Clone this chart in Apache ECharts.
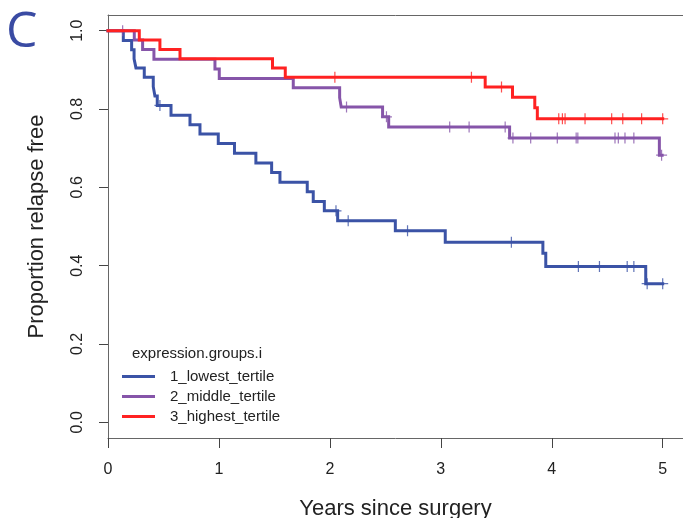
<!DOCTYPE html>
<html>
<head>
<meta charset="utf-8">
<script src="https://cdn.jsdelivr.net/npm/echarts@6/dist/echarts.min.js"></script>
<style>html,body{margin:0;padding:0;background:#fff}#c{width:683px;height:518px}</style>
</head>
<body>
<div id="c"></div>
<script>
// ---- data ----
var groupNames = ['1_lowest_tertile', '2_middle_tertile', '3_highest_tertile'];
var xTicks = [0, 1, 2, 3, 4, 5];
var yTicks = [0, 0.2, 0.4, 0.6, 0.8, 1.0];

var lowTimes = [0, 0.138, 0.213, 0.235, 0.252, 0.327, 0.408, 0.423, 0.444, 0.568, 0.739, 0.829, 0.994, 1.140, 1.333, 1.475, 1.550, 1.796, 1.850, 1.950, 2.070, 2.590, 3.040, 3.920, 3.946, 4.847, 5.0];
var lowSurv  = [1, 0.975, 0.951, 0.928, 0.905, 0.881, 0.857, 0.833, 0.809, 0.784, 0.760, 0.736, 0.712, 0.687, 0.662, 0.638, 0.613, 0.589, 0.564, 0.540, 0.515, 0.489, 0.460, 0.432, 0.398, 0.354, 0.354];
var lowCensTimes = [0.468, 2.055, 2.165, 2.70, 3.636, 4.24, 4.43, 4.68, 4.74, 4.86, 5.0];
var lowCensSurv  = [0.809, 0.540, 0.515, 0.489, 0.460, 0.398, 0.398, 0.398, 0.398, 0.354, 0.354];

var midTimes = [0, 0.237, 0.312, 0.414, 0.964, 1.003, 1.670, 2.088, 2.102, 2.475, 2.530, 3.620, 4.970, 4.995];
var midSurv  = [1, 0.976, 0.952, 0.927, 0.902, 0.878, 0.854, 0.829, 0.805, 0.780, 0.754, 0.726, 0.682, 0.682];
var midCensTimes = [0.132, 2.15, 2.51, 3.08, 3.255, 3.58, 3.65, 3.81, 4.05, 4.22, 4.235, 4.57, 4.60, 4.66, 4.74, 4.99];
var midCensSurv  = [1.0, 0.805, 0.780, 0.754, 0.754, 0.754, 0.726, 0.726, 0.726, 0.726, 0.726, 0.726, 0.726, 0.726, 0.726, 0.682];

var highTimes = [0, 0.282, 0.468, 0.649, 1.483, 1.598, 3.400, 3.646, 3.847, 3.870, 5.0];
var highSurv  = [1, 0.976, 0.952, 0.928, 0.905, 0.881, 0.856, 0.830, 0.803, 0.775, 0.775];
var highCensTimes = [2.045, 3.276, 3.547, 4.063, 4.096, 4.12, 4.30, 4.54, 4.64, 4.81, 5.0];
var highCensSurv  = [0.881, 0.881, 0.856, 0.775, 0.775, 0.775, 0.775, 0.775, 0.775, 0.775, 0.775];

// ---- styling ----
var colors = ['#3b53a6', '#8655a9', '#ff2222'];
var crossPath = 'path://M4.45,0h1.1v10h-1.1zM0,4.45h10v1.1h-10z';
var FONT = 'Liberation Sans, Arial, sans-serif';

function pairs(xs, ys) { return xs.map(function (x, i) { return [x, ys[i]]; }); }

var curves = [pairs(lowTimes, lowSurv), pairs(midTimes, midSurv), pairs(highTimes, highSurv)];
var censors = [pairs(lowCensTimes, lowCensSurv), pairs(midCensTimes, midCensSurv), pairs(highCensTimes, highCensSurv)];

var series = [];
for (var g = 0; g < 3; g++) {
  series.push({
    name: groupNames[g], type: 'line', step: 'end', data: curves[g],
    showSymbol: false, symbol: 'none', z: 2 + g,
    lineStyle: { color: colors[g], width: 3, cap: 'square', join: 'miter' },
    itemStyle: { color: colors[g] },
    animation: false, silent: true
  });
  series.push({
    name: groupNames[g] + '_cens', type: 'scatter', data: censors[g],
    symbol: crossPath, symbolSize: 11, z: 2 + g,
    itemStyle: { color: colors[g], opacity: 0.8 },
    animation: false, silent: true
  });
}

var chart = echarts.init(document.getElementById('c'), null, { renderer: 'canvas' });
chart.setOption({
  backgroundColor: '#fff',
  animation: false,
  grid: { left: 108, top: 15, right: 0, bottom: 80, show: false, containLabel: false, outerBoundsMode: 'none' },
  title: {
    text: 'expression.groups.i', left: 127, top: 341,
    textStyle: { fontFamily: FONT, fontSize: 15, fontWeight: 'normal', color: '#222' }
  },
  legend: {
    data: groupNames, orient: 'vertical', left: 122, top: 369, padding: 0,
    icon: 'rect', itemWidth: 33, itemHeight: 3, itemGap: 5,
    textStyle: { fontFamily: FONT, fontSize: 15, color: '#222', padding: [0, 0, 0, 10] },
    selectedMode: false
  },
  graphic: [{
    type: 'text', left: 6, top: 8,
    style: { text: 'C', fontFamily: 'Open Sans, sans-serif', fontSize: 50, fill: '#3a4ba3' }
  }],
  xAxis: [{
    type: 'value', min: 0, max: 5.183, position: 'bottom',
    name: 'Years since surgery', nameLocation: 'middle', nameGap: 60,
    nameTextStyle: { fontFamily: FONT, fontSize: 22, color: '#222' },
    axisLine: { show: true, onZero: false, lineStyle: { color: '#666', width: 1 } },
    axisTick: { show: true, length: 10, customValues: xTicks, lineStyle: { color: '#444' } },
    axisLabel: { customValues: xTicks, margin: 24, fontFamily: FONT, fontSize: 16, color: '#222',
      formatter: function (v) { return String(v); } },
    splitLine: { show: false }
  }, {
    type: 'value', min: 0, max: 5.183, position: 'top',
    axisLine: { show: true, onZero: false, lineStyle: { color: '#666', width: 1 } },
    axisTick: { show: false }, axisLabel: { show: false }, splitLine: { show: false }
  }],
  yAxis: {
    type: 'value', min: -0.04, max: 1.04,
    name: 'Proportion relapse free', nameLocation: 'middle', nameGap: 60,
    nameTextStyle: { fontFamily: FONT, fontSize: 22, color: '#222' },
    axisLine: { show: true, onZero: false, lineStyle: { color: '#666', width: 1 } },
    axisTick: { show: true, length: 9, customValues: yTicks, lineStyle: { color: '#444' } },
    axisLabel: { customValues: yTicks, rotate: 90, margin: 22, fontFamily: FONT, fontSize: 16, color: '#222',
      formatter: function (v) { return v.toFixed(1); } },
    splitLine: { show: false }
  },
  series: series
});
</script>
</body>
</html>
